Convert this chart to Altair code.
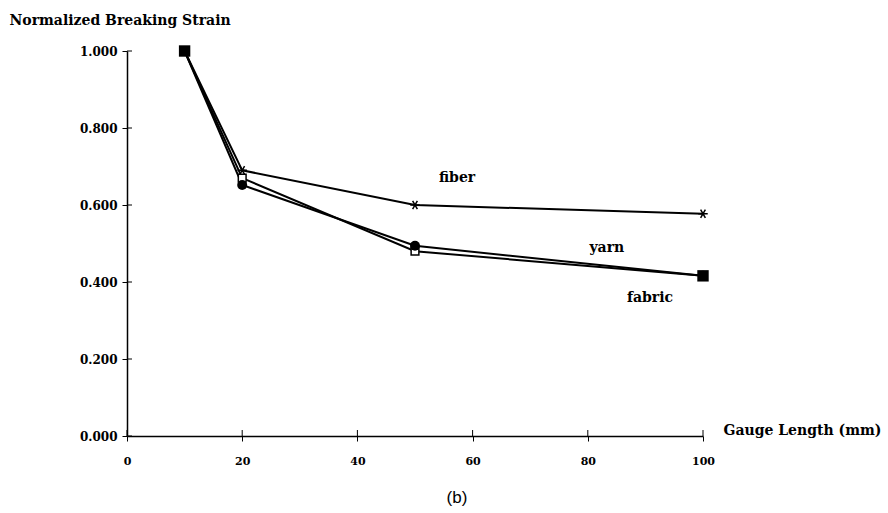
import altair as alt
import pandas as pd

gauge = [10, 20, 50, 100]
fiber = [1.000, 0.690, 0.600, 0.577]
yarn = [1.000, 0.652, 0.494, 0.416]
fabric = [1.000, 0.670, 0.480, 0.416]

y_ticks = [0.0, 0.2, 0.4, 0.6, 0.8, 1.0]
x_ticks = [0, 20, 40, 60, 80, 100]

label_names = ["fiber", "yarn", "fabric"]
label_x = [57.3, 83.3, 90.8]
label_y = [0.669, 0.488, 0.358]

SERIF = "DejaVu Serif"

df = pd.DataFrame({
    "gauge": gauge * 3,
    "strain": fiber + yarn + fabric,
    "series": ["fiber"] * 4 + ["yarn"] * 4 + ["fabric"] * 4,
})

xs = alt.Scale(domain=[0, 100], nice=False, zero=True)
ys = alt.Scale(domain=[0, 1], nice=False)

x_axis = alt.Axis(values=x_ticks, format="d", labelFont=SERIF, labelFontWeight="bold",
                  labelFontSize=11, labelColor="black", labelPadding=14, labelFlush=False,
                  tickSize=5, tickColor="black", tickWidth=1,
                  domainColor="black", domainWidth=1.5, grid=False,
                  title="Gauge Length (mm)", titleFont=SERIF, titleFontWeight="bold",
                  titleFontSize=14, titleColor="black", titleX=596, titleY=-6,
                  titleAlign="left", titleBaseline="middle", titleAngle=0)
y_axis = alt.Axis(values=y_ticks, format=".3f", labelFont=SERIF, labelFontWeight="bold",
                  labelFontSize=12, labelColor="black", labelPadding=5, labelFlush=False,
                  tickSize=5, tickColor="black", tickWidth=1,
                  domainColor="black", domainWidth=1.5, grid=False,
                  title="Normalized Breaking Strain", titleFont=SERIF, titleFontWeight="bold",
                  titleFontSize=14, titleColor="black", titleX=-118, titleY=-31,
                  titleAlign="left", titleBaseline="middle", titleAngle=0)

base = alt.Chart(df)

lines = base.mark_line(color="black", strokeWidth=2).encode(
    x=alt.X("gauge:Q", scale=xs, axis=x_axis),
    y=alt.Y("strain:Q", scale=ys, axis=y_axis),
    detail="series:N",
)

star = "M-1,0L1,0M-0.5,-0.866L0.5,0.866M-0.5,0.866L0.5,-0.866"
fiber_pts = base.transform_filter(alt.datum.series == "fiber").mark_point(
    shape=star, filled=False, stroke="black", strokeWidth=1.5, size=90, opacity=1
).encode(x=alt.X("gauge:Q", scale=xs), y=alt.Y("strain:Q", scale=ys))

fabric_pts = base.transform_filter(alt.datum.series == "fabric").mark_point(
    shape="square", filled=True, fill="white", stroke="black", strokeWidth=1.5, size=60, opacity=1
).encode(x=alt.X("gauge:Q", scale=xs), y=alt.Y("strain:Q", scale=ys))

yarn_pts = base.transform_filter(alt.datum.series == "yarn").mark_point(
    shape="circle", filled=True, fill="black", size=100, opacity=1
).encode(x=alt.X("gauge:Q", scale=xs), y=alt.Y("strain:Q", scale=ys))

end_pts = base.transform_filter(
    (alt.datum.series == "fabric") & ((alt.datum.gauge == 10) | (alt.datum.gauge == 100))
).mark_point(shape="square", filled=True, fill="black", size=130, opacity=1).encode(
    x=alt.X("gauge:Q", scale=xs), y=alt.Y("strain:Q", scale=ys))

# inward halves of the crossing ticks
ytick_df = pd.DataFrame({"v": y_ticks})
ytk = alt.Chart(ytick_df).mark_rule(color="black", strokeWidth=1).encode(
    y=alt.Y("v:Q", scale=ys), x=alt.value(0), x2=alt.value(5))
xtick_df = pd.DataFrame({"v": x_ticks})
xtk = alt.Chart(xtick_df).mark_rule(color="black", strokeWidth=1).encode(
    x=alt.X("v:Q", scale=xs), y=alt.value(379), y2=alt.value(385))

lab_df = pd.DataFrame({"name": label_names, "x": label_x, "y": label_y})
labels = alt.Chart(lab_df).mark_text(font=SERIF, fontWeight="bold", fontSize=14,
                                     color="black", align="center", baseline="middle").encode(
    x=alt.X("x:Q", scale=xs), y=alt.Y("y:Q", scale=ys), text="name:N")

cap = alt.Chart(pd.DataFrame({"t": ["(b)"]})).mark_text(
    font="Liberation Sans", fontSize=17, color="black", align="center", baseline="middle"
).encode(x=alt.value(330), y=alt.value(447), text="t:N")

chart = alt.layer(lines, ytk, xtk, fiber_pts, fabric_pts, yarn_pts, end_pts, labels, cap).properties(
    width=576, height=385,
    padding={"left": 127, "top": 51, "right": 185, "bottom": 77},
    autosize=alt.AutoSizeParams(type="none"),
    background="white",
).configure_view(stroke=None)

chart.save("out.html", embed_options={"renderer": "svg", "actions": False})
